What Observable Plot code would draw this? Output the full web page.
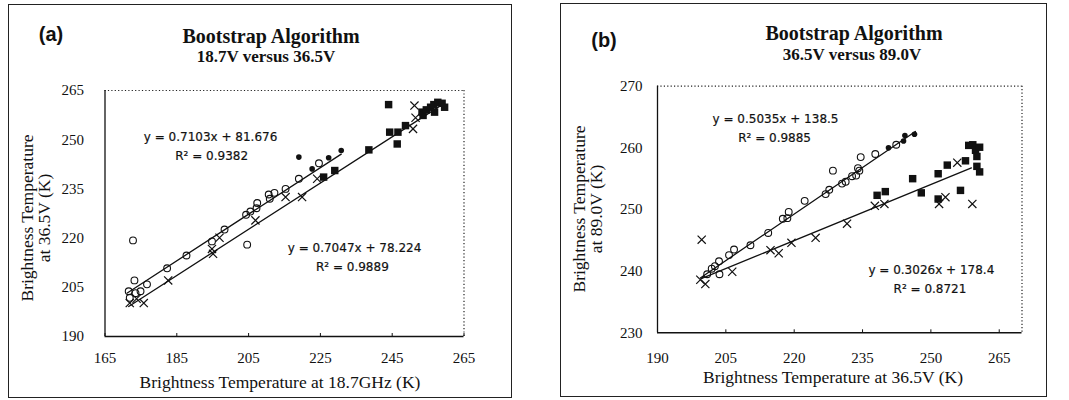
<!DOCTYPE html>
<html>
<head>
<meta charset="utf-8">
<script src="https://cdn.jsdelivr.net/npm/d3@7"></script>
<script src="https://cdn.jsdelivr.net/npm/@observablehq/plot@0.6"></script>
<style>
  html,body{margin:0;padding:0;background:#fff;}
  #root{position:relative;width:1069px;height:400px;overflow:hidden;background:#fff;color:#111;}
  .frame{position:absolute;border:1px solid #222;box-sizing:border-box;}
  .t{position:absolute;white-space:nowrap;transform:translate(-50%,-50%);line-height:1;font-family:"Liberation Serif","Times New Roman",serif;}
  .lab{font-family:"Liberation Sans",Arial,sans-serif;font-weight:bold;font-size:20px;}
  .title{font-weight:bold;font-size:20px;}
  .sub{font-weight:bold;font-size:17px;}
  .axt{font-size:17.5px;}
  .rot{transform:translate(-50%,-50%) rotate(-90deg);}
  .plot{position:absolute;top:0;}
</style>
</head>
<body>
<div id="root"></div>
<script>
// ---------- Panel (a): 18.7V versus 36.5V ----------
const aXTicks = [165, 185, 205, 225, 245, 265];
const aYTicks = [190, 205, 220, 235, 250, 265];
const aOpen = [[172.8,219.3],[173.2,207.1],[171.6,203.8],[171.9,201.8],[173.5,203.2],[174.9,203.8],[176.7,205.9],
  [182.3,210.8],[187.7,214.7],[194.8,219.0],[198.3,222.6],[204.6,218.0],[204.3,227.1],[205.5,228.1],[207.4,230.7],
  [207.2,229.1],[210.6,233.3],[210.9,232.0],[212.2,233.8],[215.3,235.0],[219.0,238.1],[224.6,242.8]];
const aFilled = [[219.0,244.7],[222.7,241.1],[227.3,244.5],[230.8,246.7]];
const aCross = [[171.9,200.2],[173.8,201.5],[175.8,200.2],[182.6,207.1],[195.1,215.2],[194.8,216.7],[196.9,220.1],
  [206.9,225.4],[215.3,232.5],[219.9,232.5],[224.1,238.1],[251.2,260.4],[251.5,256.7],[250.8,253.3]];
const aSquare = [[225.9,238.6],[229.0,240.6],[238.5,246.9],[244.0,260.7],[244.3,252.3],[246.6,252.3],[246.4,248.7],
  [248.7,254.3],[253.3,258.4],[253.6,257.4],[254.5,259.1],[255.7,259.9],[256.6,260.7],[256.8,258.4],[257.7,261.4],
  [258.9,261.1],[259.6,259.9]];
const aFits = [
  {slope: 0.7103, intercept: 81.676, x0: 171.2, x1: 230.8},
  {slope: 0.7047, intercept: 78.224, x0: 171.6, x1: 258.5}
];
const aEqs = [
  {x: 194.4, y: 250.7, text: "y = 0.7103x + 81.676"},
  {x: 194.7, y: 245.0, text: "R² = 0.9382"},
  {x: 234.5, y: 216.8, text: "y = 0.7047x + 78.224"},
  {x: 233.9, y: 211.1, text: "R² = 0.9889"}
];

// ---------- Panel (b): 36.5V versus 89.0V ----------
const bXTicks = [190, 205, 220, 235, 250, 265];
const bYTicks = [230, 240, 250, 260, 270];
const bOpen = [[200.9,239.5],[201.9,240.4],[202.6,240.8],[203.5,241.6],[203.6,239.5],[205.7,242.6],[206.8,243.5],
  [210.4,244.2],[214.3,246.2],[217.5,248.5],[218.5,248.6],[218.8,249.6],[222.3,251.4],[226.9,252.5],[227.7,253.2],
  [228.5,256.3],[230.5,254.2],[231.3,254.5],[232.7,255.4],[233.6,255.5],[234.0,256.7],[234.3,256.3],[234.6,258.5],
  [237.8,259.0],[242.4,260.5]];
const bFilled = [[240.7,260.0],[244.0,261.1],[244.3,262.0],[246.4,262.2]];
const bCross = [[199.7,245.1],[199.4,238.6],[200.5,237.9],[206.4,239.9],[214.8,243.4],[216.6,242.9],[219.4,244.6],
  [224.7,245.4],[231.6,247.7],[237.7,250.6],[239.8,250.9],[251.8,250.9],[253.2,252.0],[255.8,257.6],[259.1,250.9]];
const bSquare = [[238.2,252.3],[240.0,252.9],[246.0,255.0],[247.9,252.7],[251.6,255.8],[251.6,251.7],[253.6,257.2],
  [256.5,253.1],[257.6,257.9],[258.3,260.4],[259.2,260.5],[259.8,259.6],[260.7,260.1],[260.1,258.6],[260.1,257.0],
  [260.7,256.1]];
const bFits = [
  {slope: 0.5035, intercept: 138.5, x0: 199.4, x1: 246.6},
  {slope: 0.3026, intercept: 178.4, x0: 199.6, x1: 258.9}
];
const bEqs = [
  {x: 215.9, y: 264.7, text: "y = 0.5035x + 138.5"},
  {x: 215.7, y: 261.5, text: "R² = 0.9885"},
  {x: 250.1, y: 240.2, text: "y = 0.3026x + 178.4"},
  {x: 249.8, y: 237.1, text: "R² = 0.8721"}
];

const INK = "#111";
const toObj = a => a.map(([x, y]) => ({x, y}));

function makePanel(c) {
  const lineData = c.fits.flatMap((f, i) => [f.x0, f.x1].map(x => ({id: i, x, y: f.slope * x + f.intercept})));
  const xd = c.xDomain, yd = c.yDomain;
  return Plot.plot({
    width: c.width, height: 400,
    marginLeft: c.ml, marginRight: c.mr, marginTop: c.mt, marginBottom: c.mb,
    x: {domain: xd},
    y: {domain: yd},
    style: {fontFamily: '"Liberation Serif", "Times New Roman", serif', fontSize: "15px", color: INK, background: "transparent", overflow: "visible"},
    marks: [
      Plot.ruleY([yd[1]], {stroke: "#222", strokeWidth: 1.2, strokeDasharray: "1.2,2.2"}),
      Plot.ruleX([xd[1]], {stroke: "#222", strokeWidth: 1.2, strokeDasharray: "1.2,2.2"}),
      Plot.ruleX([xd[0]], {stroke: INK, strokeWidth: 1.3}),
      Plot.ruleY([yd[0]], {stroke: INK, strokeWidth: 1.6}),
      Plot.axisX({ticks: c.xTicks, tickSize: -3, tickPadding: c.xPad, tickFormat: d => String(d), label: null}),
      Plot.axisY({ticks: c.yTicks, tickSize: 0, tickPadding: c.yPad, tickFormat: d => String(d), label: null}),
      Plot.line(lineData, {x: "x", y: "y", z: "id", stroke: INK, strokeWidth: 1.3}),
      Plot.dot(toObj(c.open), {x: "x", y: "y", r: 3.4, stroke: INK, strokeWidth: 1.1, fill: "none"}),
      Plot.dot(toObj(c.filled), {x: "x", y: "y", r: 2.8, fill: INK, stroke: null}),
      Plot.dot(toObj(c.cross), {x: "x", y: "y", symbol: "times", r: 3.8, stroke: INK, strokeWidth: 1.2}),
      Plot.dot(toObj(c.square), {x: "x", y: "y", symbol: "square", r: 4.2, fill: INK, stroke: null}),
      Plot.text(c.eqs, {x: "x", y: "y", text: "text", fontFamily: '"DejaVu Sans", sans-serif', fontSize: 12, fill: INK, stroke: INK, strokeWidth: 0.2})
    ]
  });
}

const root = document.getElementById("root");
function addFrame(l, t, w, h) {
  const d = document.createElement("div");
  d.className = "frame";
  Object.assign(d.style, {left: l + "px", top: t + "px", width: w + "px", height: h + "px"});
  root.appendChild(d);
}
function addText(x, y, str, cls) {
  const d = document.createElement("div");
  d.className = "t " + cls;
  d.textContent = str;
  d.style.left = x + "px";
  d.style.top = y + "px";
  root.appendChild(d);
}
function addPlot(left, svg) {
  const d = document.createElement("div");
  d.className = "plot";
  d.style.left = left + "px";
  d.appendChild(svg);
  root.appendChild(d);
}

addFrame(8, 4, 504, 394);
addFrame(560, 3, 487, 394);

addPlot(0, makePanel({
  width: 530, ml: 104.5, mr: 66.5, mt: 90, mb: 64,
  xDomain: [165, 265], yDomain: [190, 265], xTicks: aXTicks, yTicks: aYTicks,
  xPad: 19, yPad: 21,
  open: aOpen, filled: aFilled, cross: aCross, square: aSquare, fits: aFits, eqs: aEqs
}));
addPlot(535, makePanel({
  width: 534, ml: 122, mr: 47.5, mt: 85.7, mb: 67.7,
  xDomain: [190, 270], yDomain: [230, 270], xTicks: bXTicks, yTicks: bYTicks,
  xPad: 22.5, yPad: 15,
  open: bOpen, filled: bFilled, cross: bCross, square: bSquare, fits: bFits, eqs: bEqs
}));

// Panel (a) texts
addText(51, 34, "(a)", "lab");
addText(271, 36, "Bootstrap Algorithm", "title");
addText(266, 56, "18.7V versus 36.5V", "sub");
addText(280, 383, "Brightness Temperature at 18.7GHz (K)", "axt");
addText(28, 218, "Brightness Temperature", "axt rot");
addText(45, 218, "at 36.5V (K)", "axt rot");

// Panel (b) texts
addText(604, 40, "(b)", "lab");
addText(854, 33, "Bootstrap Algorithm", "title");
addText(852, 54, "36.5V versus 89.0V", "sub");
addText(833, 378, "Brightness Temperature at 36.5V (K)", "axt");
addText(580, 209, "Brightness Temperature", "axt rot");
addText(597, 209, "at 89.0V (K)", "axt rot");
</script>
</body>
</html>
